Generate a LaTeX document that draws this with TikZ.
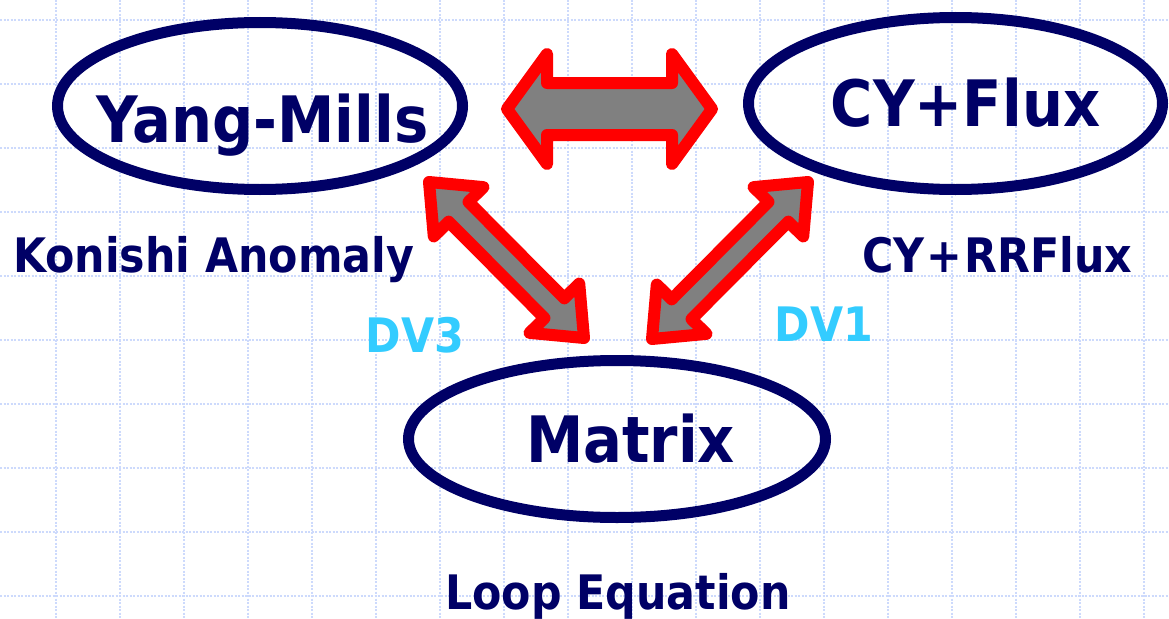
\documentclass[tikz,border=0pt]{standalone}
\usepackage{fontspec}
\setmainfont{DejaVu Sans Condensed}
\usetikzlibrary{calc,shapes.geometric}
\definecolor{navy}{RGB}{0,0,102}
\definecolor{dvblue}{RGB}{51,204,255}
\definecolor{gridblue}{RGB}{205,218,252}
\tikzset{
    gridline/.style = {gridblue, line width=2.5pt, dash pattern=on 2pt off 1.5pt},
    blob/.style = {draw=navy, ellipse, line width=11pt, inner sep=0pt},
    bigtxt/.style = {navy, anchor=base, inner sep=0pt, font=\bfseries\fontsize{64}{70}\selectfont},
    smalltxt/.style = {navy, anchor=base, inner sep=0pt, font=\bfseries\fontsize{47.5}{52}\selectfont},
    dvtxt/.style = {smalltxt, dvblue},
    fat/.style = {draw=red, fill=gray, line width=12pt, line join=round}
}
\newcommand{\fatarrow}[5]{%
    \draw[fat] (#1) -- ($(#1)!#5pt!(#2)!#4pt!90:(#2)$) -- ($(#1)!#5pt!(#2)!#3pt!90:(#2)$)
        -- ($(#2)!#5pt!(#1)!#3pt!270:(#1)$) -- ($(#2)!#5pt!(#1)!#4pt!270:(#1)$) -- (#2)
        -- ($(#2)!#5pt!(#1)!#4pt!90:(#1)$) -- ($(#2)!#5pt!(#1)!#3pt!90:(#1)$)
        -- ($(#1)!#5pt!(#2)!#3pt!270:(#2)$) -- ($(#1)!#5pt!(#2)!#4pt!270:(#2)$) -- cycle;
}
\begin{document}
\begin{tikzpicture}[x=1pt, y=-1pt]
        \useasboundingbox (0,0) rectangle (1169,618);
        \fill[white] (0,0) rectangle (1169,618);
        \foreach \gx in {56,120,...,1144}{
            \draw[gridline] (\gx,0) -- (\gx,618);
        }
        \foreach \gy in {20,84,...,596}{
            \draw[gridline] (0,\gy) -- (1169,\gy);
        }
        \node [blob, minimum width=405pt, minimum height=167pt] (ym) at (260,106) {};
        \node [blob, minimum width=414pt, minimum height=172pt] (cy) at (955.5,103.5) {};
        \node [blob, minimum width=417pt, minimum height=157pt] (mx) at (617,439) {};
        \node [bigtxt] (ymlabel) at (262.5,142) {Yang-Mills};
        \node [bigtxt] (cylabel) at (965.5,126) {CY+Flux};
        \node [bigtxt] (mxlabel) at (630.5,462) {Matrix};
        \node [smalltxt] (konishi) at (213.5,272) {Konishi Anomaly};
        \node [smalltxt] (rrflux) at (997.5,272) {CY\hspace{2pt}+\hspace{2pt}RRFlux};
        \node [smalltxt] (loop) at (618,609) {Loop Equation};
        \node [dvtxt] (dv3) at (415,352) {DV3};
        \node [dvtxt] (dv1) at (824,341) {DV1};
        \coordinate (ymright) at (507,109);
        \coordinate (cyleft) at (712,109);
        \coordinate (ymbelow) at (429,182);
        \coordinate (mxleft) at (584,338);
        \coordinate (cybelow) at (808,182);
        \coordinate (mxright) at (652,339);
        \fatarrow{ymright}{cyleft}{26}{55}{40}
        \fatarrow{ymbelow}{mxleft}{14}{35}{42}
        \fatarrow{cybelow}{mxright}{14}{35}{42}
    \end{tikzpicture}
\end{document}
